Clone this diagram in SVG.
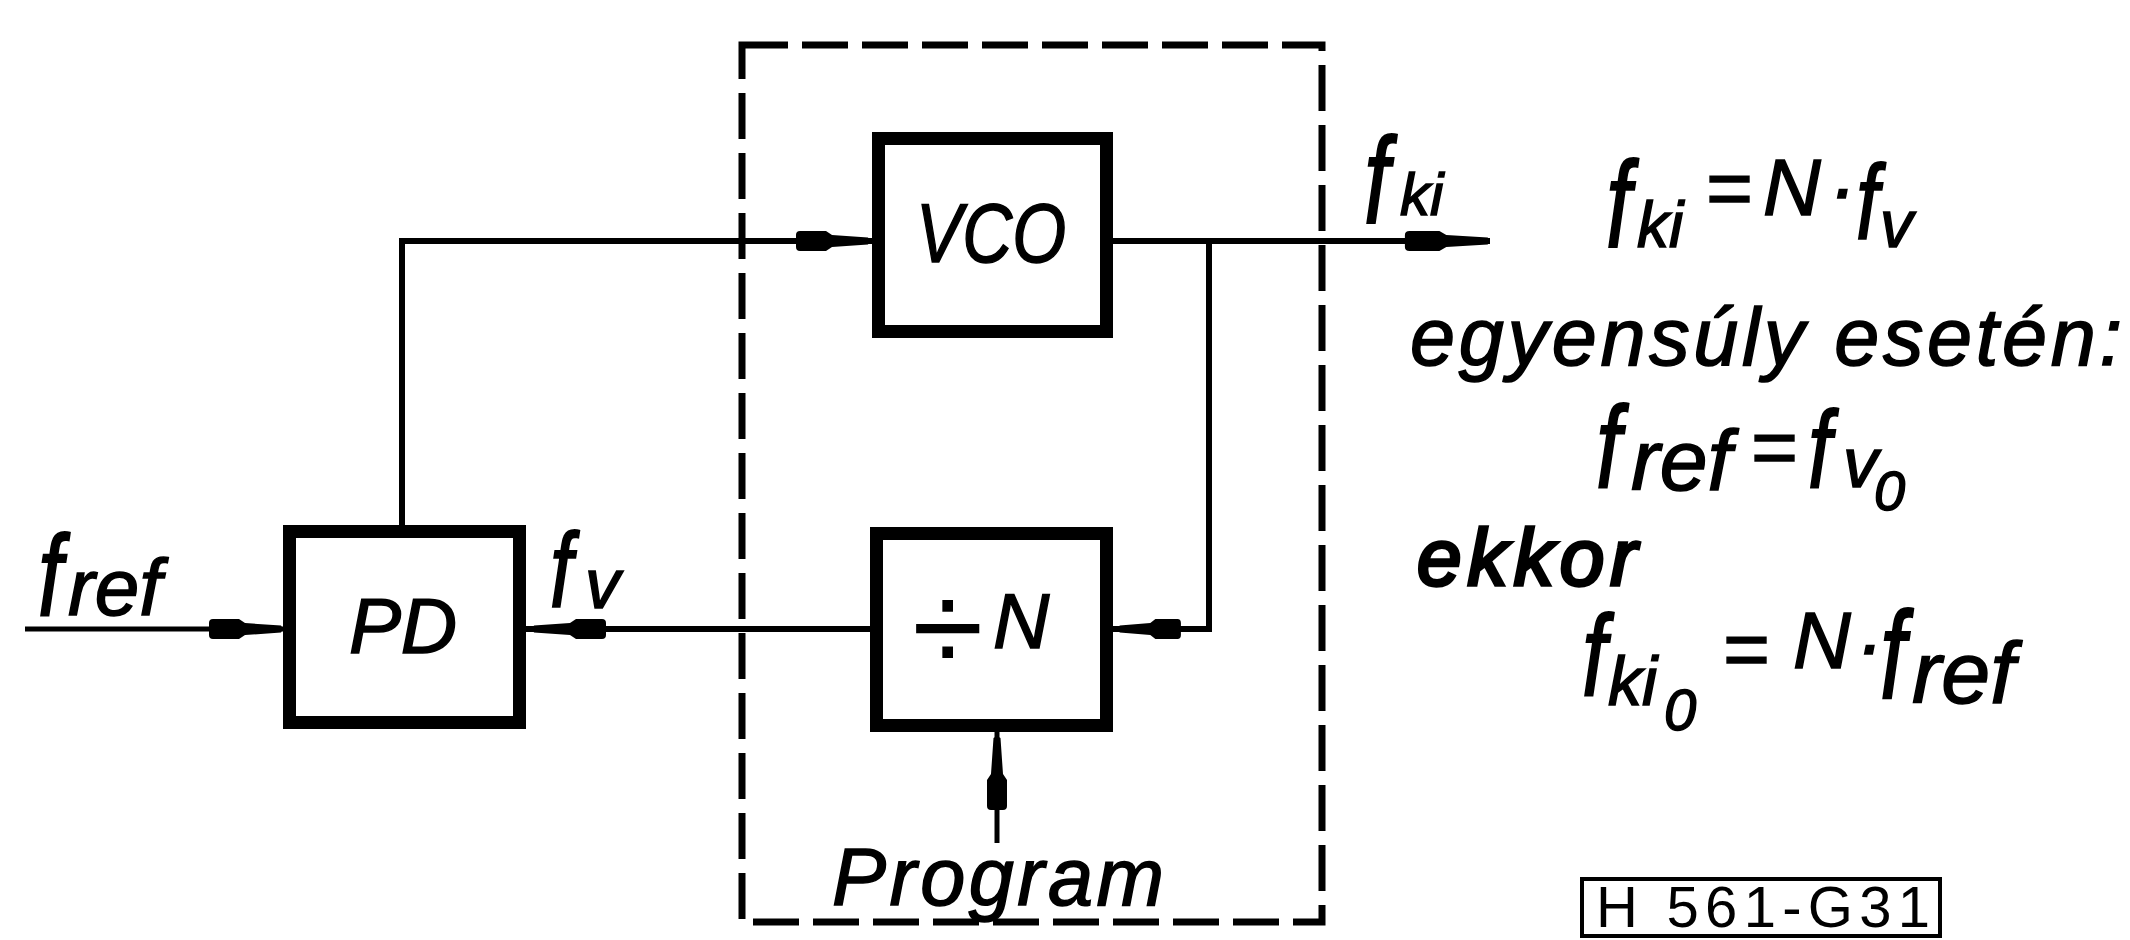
<svg xmlns="http://www.w3.org/2000/svg" xmlns:xlink="http://www.w3.org/1999/xlink" width="2130" height="940" viewBox="0 0 2130 940">
<style>
.bg{fill:#fff}
.box{fill:none;stroke:#000;stroke-width:13}
.dash{fill:none;stroke:#000;stroke-width:7;stroke-dasharray:46 14}
.ln{fill:none;stroke:#000;stroke-width:6}
.thin{fill:none;stroke:#000;stroke-width:5}
.t{font-family:"Liberation Sans",Arial,sans-serif;font-style:italic;fill:#000;stroke:#000;stroke-width:1.5}
.u{font-family:"Liberation Sans",Arial,sans-serif;font-style:normal;fill:#000}
.ref{fill:none;stroke:#000;stroke-width:4}
</style>
<defs>
<path id="ah" d="M0,0 L-2,-3.5 L-38,-6 L-44,-10 L-70,-10 Q-74,-10 -74,-6 L-74,6 Q-74,10 -70,10 L-44,10 L-38,6 L-2,3.5 Z" fill="#000"/>
</defs>
<rect class="bg" x="0" y="0" width="2130" height="940"/>

<g id="frame">
<rect class="dash" x="742" y="45" width="580" height="877"/>
</g>

<g id="connectors">
<path class="thin" d="M25,629 H283"/>
<path class="ln" d="M526,629 H870"/>
<path class="ln" d="M402,525 V241 H872"/>
<path class="ln" d="M1113,241 H1490"/>
<path class="ln" d="M1209,241 V629 H1113"/>
<path class="thin" d="M997,732 V843"/>
<use xlink:href="#ah" transform="translate(283,629)"/>
<use xlink:href="#ah" transform="translate(532,629) rotate(180)"/>
<use xlink:href="#ah" transform="translate(870,241)"/>
<use xlink:href="#ah" transform="translate(1490,241) scale(1.15,1)"/>
<use xlink:href="#ah" transform="translate(1118,629) rotate(180) scale(0.85,1)"/>
<use xlink:href="#ah" transform="translate(997,736) rotate(-90)"/>
</g>

<g id="PD">
<rect class="box" x="289.5" y="531.5" width="230" height="191"/>
<text class="t" x="349" y="653" font-size="78" textLength="108">PD</text>
</g>

<g id="VCO">
<rect class="box" x="878.5" y="138.5" width="228" height="193"/>
<text class="t" x="916" y="262" font-size="84" textLength="150" lengthAdjust="spacingAndGlyphs">VCO</text>
</g>

<g id="divN">
<rect class="box" x="876.5" y="533.5" width="230" height="192"/>
<text class="u" font-size="130"><tspan x="912" y="672">÷</tspan><tspan class="t" style="font-style:italic" x="993" y="648" font-size="78">N</tspan></text>
</g>

<g id="program">
<text class="t" x="832" y="905" font-size="81" textLength="332">Program</text>
</g>

<g id="labels">
<text class="t" transform="translate(38,615) scale(1,1.3)" font-size="88">f</text>
<text class="t" x="68" y="615" font-size="80">ref</text>
<text class="t" transform="translate(550,607) scale(1,1.3)" font-size="81">f</text>
<text class="t" x="585" y="608" font-size="70">v</text>
<text class="t" transform="translate(1364,223) scale(1,1.35)" font-size="91">f</text>
<text class="t" x="1400" y="215" font-size="60">ki</text>
</g>

<g id="equations">
<text class="t" transform="translate(1606,247) scale(1,1.35)" font-size="90">f</text>
<text class="t"><tspan x="1637" y="247" font-size="64">ki</tspan><tspan x="1705" y="215" font-size="80">=</tspan><tspan x="1763" y="215" font-size="80">N</tspan><tspan x="1829" y="215" font-size="80">·</tspan></text>
<text class="t" transform="translate(1856,239) scale(1,1.3)" font-size="82">f</text>
<text class="t" x="1880" y="247" font-size="66">v</text>

<text class="t" x="1410" y="365" font-size="81" textLength="712">egyensúly esetén:</text>

<text class="t" transform="translate(1596,488) scale(1,1.3)" font-size="90">f</text>
<text class="t"><tspan x="1631" y="490" font-size="86">ref</tspan><tspan x="1750" y="474" font-size="80">=</tspan></text>
<text class="t" transform="translate(1808,487) scale(1,1.3)" font-size="84">f</text>
<text class="t" x="1843" y="487" font-size="70">v</text>
<text class="t" x="1874" y="510" font-size="56">0</text>

<text class="t" x="1417" y="585" font-size="80" style="stroke-width:3.5" textLength="220">ekkor</text>

<text class="t" transform="translate(1582,695) scale(1,1.3)" font-size="88">f</text>
<text class="t"><tspan x="1608" y="705" font-size="68">ki</tspan><tspan x="1664" y="730" font-size="58">0</tspan><tspan x="1722" y="676" font-size="80">=</tspan><tspan x="1793" y="668" font-size="80">N</tspan><tspan x="1856" y="671" font-size="80">·</tspan></text>
<text class="t" transform="translate(1880,698) scale(1,1.35)" font-size="92">f</text>
<text class="t" x="1912" y="703" font-size="88">ref</text>
</g>

<g id="code">
<rect class="ref" x="1582" y="879" width="358" height="57"/>
<text class="u" x="1596" y="927" font-size="58" textLength="334">H 561-G31</text>
</g>
</svg>
